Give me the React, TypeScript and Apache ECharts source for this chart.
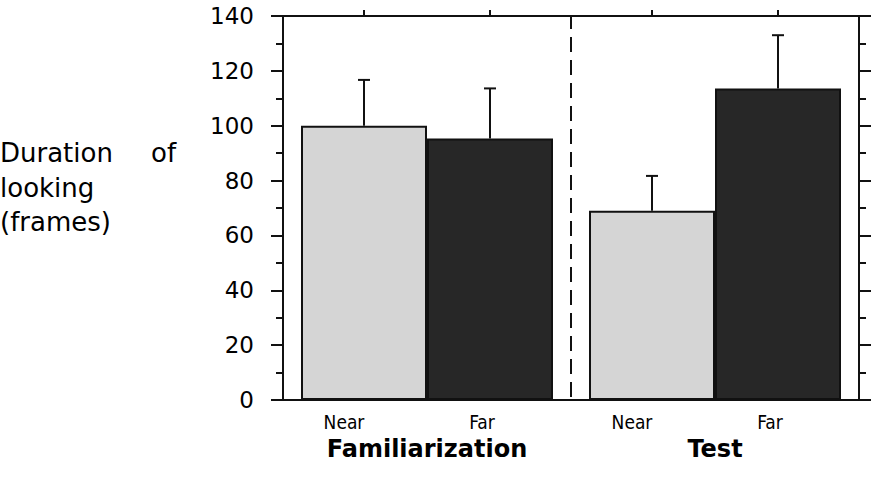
import React, { useEffect, useRef } from "react";
import * as echarts from "echarts";

const categories = ["Familiarization", "Test"];
const nearMeans = [100, 69];
const farMeans = [95.3, 113.6];
const nearErrTop = [116.7, 81.7];
const farErrTop = [113.6, 133];
const yTicks = [0, 20, 40, 60, 80, 100, 120, 140];

const FONT = "'DejaVu Sans', Verdana, sans-serif";
const COND = "'DejaVu Sans Condensed', 'DejaVu Sans', sans-serif";

export default function App() {
  const ref = useRef<HTMLDivElement>(null);
  useEffect(() => {
    if (!ref.current) return;
    const chart = echarts.init(ref.current, null, { renderer: "svg" });
    const errData: any[] = [];
    categories.forEach((_, i) => {
      errData.push([i, nearMeans[i], nearErrTop[i], 0]);
      errData.push([i, farMeans[i], farErrTop[i], 1]);
    });
    const yMax = yTicks[yTicks.length - 1];
    const yAxisBase = {
      type: "value",
      min: yTicks[0],
      max: yMax,
      interval: 20,
      z: 5,
      axisLine: { show: true, lineStyle: { color: "#111", width: 2 } },
      axisTick: { show: true, inside: false, length: 12, lineStyle: { color: "#111", width: 2 } },
      minorTick: { show: true, splitNumber: 2, length: 7, lineStyle: { color: "#111", width: 2 } },
      splitLine: { show: false },
    };
    chart.setOption({
      animation: false,
      backgroundColor: "#fff",
      grid: { left: 283, right: 27, top: 16, bottom: 79, containLabel: false },
      graphic: [
        { type: "text", left: 0, top: 140, style: { text: "Duration", font: `26px ${FONT}`, fill: "#000" } },
        { type: "text", left: 151, top: 140, style: { text: "of", font: `26px ${FONT}`, fill: "#000" } },
        { type: "text", left: 0, top: 175, style: { text: "looking", font: `26px ${FONT}`, fill: "#000" } },
        { type: "text", left: 0, top: 209, style: { text: "(frames)", font: `26px ${FONT}`, fill: "#000" } },
      ],
      xAxis: [
        {
          type: "category",
          data: categories,
          boundaryGap: true,
          z: 2,
          axisLine: { show: true, lineStyle: { color: "#111", width: 2 } },
          axisTick: { show: false },
          axisLabel: {
            margin: 37,
            color: "#000",
            fontFamily: FONT,
            fontWeight: "bold",
            fontSize: 24,
            rich: {},
          },
          splitLine: {
            show: true,
            lineStyle: { color: "#111", width: 2, type: [15, 8], dashOffset: 2 },
          },
        },
        {
          type: "category",
          data: categories,
          position: "top",
          boundaryGap: true,
          z: 5,
          axisLine: { show: true, onZero: false, lineStyle: { color: "#111", width: 2 } },
          axisTick: { show: false },
          axisLabel: { show: false },
          splitLine: { show: false },
        },
      ],
      yAxis: [
        {
          ...yAxisBase,
          position: "left",
          axisLabel: {
            show: true,
            margin: 29,
            color: "#000",
            fontFamily: FONT,
            fontSize: 23,
          },
        },
        {
          ...yAxisBase,
          position: "right",
          axisLabel: { show: false },
        },
      ],
      series: [
        {
          name: "Near",
          type: "bar",
          data: nearMeans,
          barGap: "0%",
          barCategoryGap: "12.5%",
          itemStyle: { color: "#d5d5d5", borderColor: "#111", borderWidth: 2 },
          label: {
            show: true,
            position: "bottom",
            distance: 12,
            offset: [-20, 0],
            formatter: "Near",
            color: "#000",
            fontFamily: COND,
            fontSize: 19,
          },
        },
        {
          name: "Far",
          type: "bar",
          data: farMeans,
          barGap: "0%",
          barCategoryGap: "12.5%",
          itemStyle: { color: "#272727", borderColor: "#111", borderWidth: 2 },
          label: {
            show: true,
            position: "bottom",
            distance: 12,
            offset: [-8, 0],
            formatter: "Far",
            color: "#000",
            fontFamily: COND,
            fontSize: 19,
          },
        },
        {
          type: "custom",
          data: errData,
          clip: false,
          z: 6,
          encode: { x: 0, y: 1 },
          renderItem: (params: any, api: any) => {
            const cat = api.value(0);
            const mean = api.value(1);
            const top = api.value(2);
            const grp = api.value(3);
            const band = api.size([1, 0])[0];
            const half = (band * 0.875) / 4;
            const base = api.coord([cat, mean]);
            const x = base[0] + (grp === 0 ? -half : half);
            const yTop = api.coord([cat, top])[1];
            const gy = params.coordSys.y;
            const style = { stroke: "#111", lineWidth: 2 };
            return {
              type: "group",
              children: [
                { type: "line", shape: { x1: x, y1: base[1], x2: x, y2: yTop }, style },
                { type: "line", shape: { x1: x - 6, y1: yTop, x2: x + 6, y2: yTop }, style },
                { type: "line", shape: { x1: x, y1: gy, x2: x, y2: gy - 6 }, style },
              ],
            };
          },
        },
      ],
    });
    return () => chart.dispose();
  }, []);
  return (
    <div
      ref={ref}
      style={{ position: "fixed", left: 0, top: 0, width: 886, height: 479, background: "#fff" }}
    />
  );
}
